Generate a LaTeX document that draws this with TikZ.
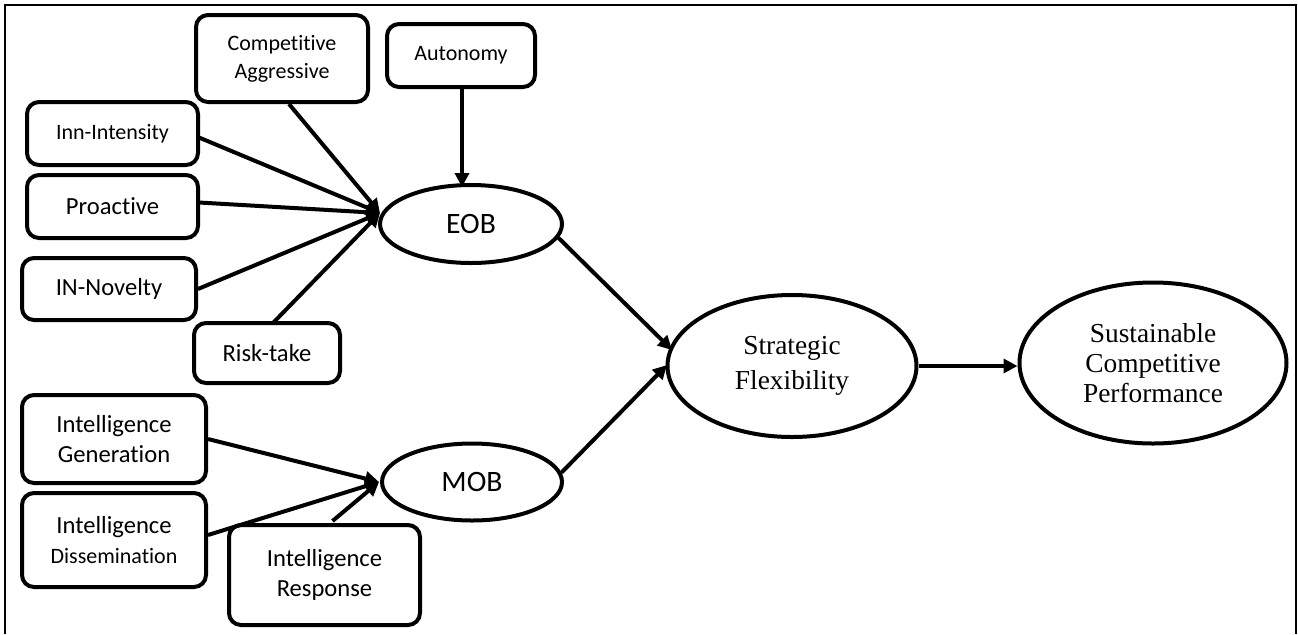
\documentclass[tikz,border=0pt]{standalone}
\usepackage{fontspec}
\setmainfont{Carlito}[RawFeature={-liga;-clig;-dlig}]
\newfontfamily\serifx{Liberation Serif}
\usetikzlibrary{arrows.meta,shapes.geometric}
\begin{document}
\begin{tikzpicture}[x=0.5pt,y=-0.5pt,
  box/.style={draw, line width=2pt, rounded corners=6pt, inner sep=0pt, align=center},
  oval/.style={draw, ellipse, line width=2pt, inner sep=0pt, align=center},
  fa/.style={font=\fontsize{11}{14}\selectfont},
  fb/.style={font=\fontsize{12.3}{15}\selectfont},
  fc/.style={font=\fontsize{14.8}{17}\selectfont},
  fs/.style={font=\serifx\fontsize{13.7}{17.5}\selectfont},
  fp/.style={font=\serifx\fontsize{13.7}{15}\selectfont},
  arr/.style={line width=2pt, -{Triangle[length=7pt,width=7pt]}}]
\useasboundingbox (0,0) rectangle (1298,634);
\draw[line width=1pt] (5,634) -- (5,5) -- (1296,5) -- (1296,634);

% boxes
\node[box, fa, minimum width=86pt, minimum height=43.5pt] (ca) at (282,58.5) {Competitive\\Aggressive};
\node[box, fa, minimum width=74pt, minimum height=31.5pt] (au) at (461,55.5) {Autonomy};
\node[box, fa, minimum width=85.5pt, minimum height=31.5pt] (ii) at (112.5,133.5) {Inn-Intensity};
\node[box, fb, minimum width=85.5pt, minimum height=31.5pt] (pr) at (112.5,206.5) {Proactive};
\node[box, fb, minimum width=87pt, minimum height=31pt] (nv) at (109,289) {IN-Novelty};
\node[box, fb, minimum width=73pt, minimum height=30pt] (rt) at (267,353) {Risk-take};
\node[box, fb, minimum width=92pt, minimum height=44pt] (ig) at (114,439) {Intelligence\\Generation};
\node[box, minimum width=92pt, minimum height=47pt, font=\fontsize{12.3}{15}\selectfont] (id) at (114,540) {Intelligence\\{\fontsize{11}{15}\selectfont Dissemination}};
\node[box, fb, minimum width=95.5pt, minimum height=50pt] (ir) at (324.5,575) {Intelligence\\Response};

% ellipses
\node[oval, fc, minimum width=91pt, minimum height=39pt] (eob) at (471,224) {\raisebox{-3pt}{EOB}};
\node[oval, fc, minimum width=90pt, minimum height=38.5pt] (mob) at (472,482) {\raisebox{-1pt}{MOB}};
\node[oval, fs, minimum width=124.5pt, minimum height=71pt] (sf) at (792,366) {Strategic\\Flexibility};
\node[oval, fp, minimum width=133.5pt, minimum height=80.5pt] (scp) at (1153,363) {Sustainable\\Competitive\\Performance};

% convergence points
\coordinate (ein) at (380,213);
\coordinate (min) at (379,482);
\coordinate (sfa) at (672,350);
\coordinate (sfb) at (667,365);

% arrows
\draw[arr] (au.south) ++(1,0) -- ++(0,98);
\draw[arr] (ca.south) ++(7,0) -- (ein);
\draw[arr] (ii.east) ++(-1,4) -- (ein);
\draw[arr] (pr.east) ++(-1,-4) -- (ein);
\draw[arr] (nv.east) -- (ein);
\draw[arr] (rt.north) ++(6,2) -- (ein);
\draw[arr] (ig.east) -- (min);
\draw[arr] (id.east) ++(0,-5) -- (min);
\draw[arr] (ir.north) ++(8,-2) -- (min);
\draw[arr] (eob.-9) -- (sfa);
\draw[arr] (mob.6) -- (sfb);
\draw[arr] (sf.east) -- (sf.east -| scp.west);
\end{tikzpicture}
\end{document}
